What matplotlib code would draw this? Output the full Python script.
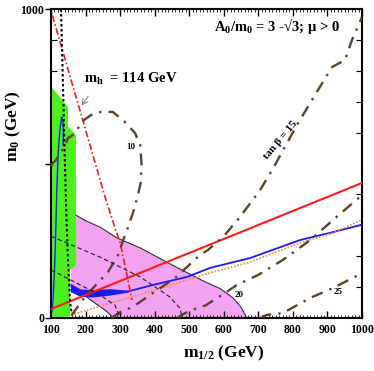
import matplotlib
matplotlib.use("Agg")
import matplotlib.pyplot as plt
import numpy as np
from matplotlib.ticker import MultipleLocator, FixedLocator

plt.rcParams['font.family'] = ['Liberation Serif', 'DejaVu Serif']
plt.rcParams['font.weight'] = 'bold'
plt.rcParams['mathtext.fontset'] = 'custom'
plt.rcParams['mathtext.rm'] = 'Liberation Serif:bold'
plt.rcParams['mathtext.it'] = 'Liberation Serif:bold'
plt.rcParams['mathtext.bf'] = 'Liberation Serif:bold'

# ---------------- data (m_1/2, m_0 in GeV) ----------------
green_x = [100, 149, 149, 172, 172, 155, 155, 100]
green_y = [750, 683, 621, 592, 171, 155, 0, 0]

pink_top_x = [172, 200, 242, 291, 358, 436, 502, 546, 590, 627, 650, 667]
pink_top_y = [333, 315, 294, 259, 227, 180, 142, 117, 95, 65, 35, 0]
pink_low_x = [282, 256, 225, 201, 175, 155]
pink_low_y = [0, 26, 50, 70, 85, 100]

band_x = [156, 185, 220, 270, 323]
band_lo = [85, 70, 68, 74, 84]
band_hi = [112, 94, 92, 95, 90]

blue_x = [323, 395, 494, 560, 676, 820, 916, 1000]
blue_y = [86, 107, 133, 162, 194, 252, 278, 302]
blue_thin_x = [103, 106, 110, 114, 117, 121, 126, 131, 134, 136, 135]
blue_thin_y = [20, 60, 150, 290, 420, 540, 610, 650, 640, 600, 560]

orange_x = [158, 323, 430, 560, 676, 820, 916, 1000]
orange_y = [10, 65, 100, 146, 181, 243, 275, 318]

red_x = [100, 1000]
red_y = [29, 437]

mh_x = [104, 130, 160, 190, 220, 259, 280, 300, 318, 334]
mh_y = [979, 879, 763, 648, 532, 382, 310, 243, 150, 58]

charg_x = [129, 132, 135, 139, 143, 147, 150, 152, 155, 158, 169]
charg_y = [1000, 870, 738, 560, 382, 250, 170, 123, 58, 26, 16]

tb10_x = [100, 106, 114, 129, 141, 149, 172, 187, 216, 245, 279, 314, 343, 358, 362, 360, 352, 340, 325, 310, 294, 265, 230, 198, 164, 155]
tb10_y = [490, 502, 511, 537, 560, 582, 599, 634, 657, 667, 667, 634, 599, 560, 500, 440, 400, 350, 300, 255, 204, 149, 107, 68, 16, 0]
tb15_x = [275, 300, 337, 400, 459, 531, 554, 598, 647, 705, 740, 815, 913, 951, 971, 994, 1000]
tb15_y = [0, 19, 36, 85, 129, 204, 220, 262, 327, 414, 479, 631, 812, 835, 900, 958, 975]
tb20_x = [465, 488, 531, 546, 604, 638, 699, 771, 850, 916, 994, 1000]
tb20_y = [0, 16, 36, 40, 81, 107, 139, 188, 252, 317, 392, 398]
tb25_x = [705, 725, 771, 850, 916, 1000]
tb25_y = [0, 10, 16, 65, 97, 145]

dash1_x = [100, 112, 242, 358, 444, 473, 480]
dash1_y = [265, 259, 197, 133, 68, 32, 0]
dash2_x = [100, 112, 242, 285, 300]
dash2_y = [155, 149, 74, 42, 0]

x_ticks = [100, 200, 300, 400, 500, 600, 700, 800, 900, 1000]
y_ticks = [0, 500, 1000]
y_ticklabels = ['0', '', '1000']

# ---------------- figure ----------------
fig = plt.figure(figsize=(3.74, 3.71), dpi=100)
ax = fig.add_axes([51/374, 53/371, 311/374, 309/371])
ax.set_xlim(100, 1000)
ax.set_ylim(0, 1000)

brown = '#5e4426'
pink = '#f4a2f2'
green = '#4df01c'

# pink region
px = pink_top_x + pink_low_x
py = pink_top_y + pink_low_y
ax.fill(px, py, color=pink, lw=0, zorder=1)
ax.plot(pink_top_x, pink_top_y, color='#333333', lw=0.8, zorder=3)
ax.plot(pink_low_x[:4], pink_low_y[:4], color='#333333', lw=0.8, zorder=3)

# green region
ax.fill(green_x, green_y, color=green, lw=0, zorder=2)

# blue band & lines
ax.fill_between(band_x, band_lo, band_hi, color='#1a1aff', lw=0, zorder=4)
ax.plot(blue_x, blue_y, color='#1a1aff', lw=1.3, zorder=4)
ax.plot(blue_thin_x, blue_thin_y, color='#1a1aff', lw=1.0, zorder=4)
ax.plot(orange_x, orange_y, color='#f08a3c', lw=1.2, ls=(0, (1, 1)), zorder=4)

# red solid
ax.plot(red_x, red_y, color='#ff1a1a', lw=1.5, zorder=5)
# higgs dash-dot
ax.plot(mh_x, mh_y, color='#ff1a1a', lw=1.2, ls=(0, (4, 1.5, 1, 1.5)), zorder=5)
# chargino dotted
ax.plot(charg_x, charg_y, color='black', lw=1.5, ls=(0, (1.2, 1.2)), zorder=5)

# tan beta contours
dd = (0, (5, 3, 1, 3))
for xx, yy in [(tb10_x, tb10_y), (tb15_x, tb15_y), (tb20_x, tb20_y), (tb25_x, tb25_y)]:
    ax.plot(xx, yy, color=brown, lw=1.7, ls=dd, zorder=5)

# thin black dashed lines
ax.plot(dash1_x, dash1_y, color='#222222', lw=0.8, ls=(0, (4, 2.5)), zorder=5)
ax.plot(dash2_x, dash2_y, color='#222222', lw=0.8, ls=(0, (4, 2.5)), zorder=5)

# texts
ax.text(0.727, 0.945, r'A$_0$/m$_0$ = 3 -√3; μ > 0', transform=ax.transAxes,
        ha='center', va='center', fontsize=10.5, fontweight='bold')
ax.text(765, 575, 'tan β = 15', rotation=50, ha='center', va='center',
        fontsize=8, fontweight='bold')
ax.text(330, 553, '10', ha='center', va='center', fontsize=6.5, fontweight='bold')
ax.text(643, 75, '20', ha='center', va='center', fontsize=6.5, fontweight='bold')
ax.text(932, 85, '25', ha='center', va='center', fontsize=6.5, fontweight='bold')
ax.text(195, 775, r'm$_{\rm h}$  = 114 GeV', ha='left', va='center', fontsize=10.5,
        fontweight='bold')
ax.annotate('', xy=(184, 680), xytext=(212, 725),
            arrowprops=dict(arrowstyle='->', color='#777777', lw=0.7))

ax.set_xlabel(r'm$_{1/2}$ (GeV)', fontsize=12.5, fontweight='bold')
ax.set_ylabel(r'm$_0$ (GeV)', fontsize=12.5, fontweight='bold')
ax.xaxis.set_label_coords(0.556, -0.085)
ax.yaxis.set_label_coords(-0.09, 0.62)

ax.set_xticks(x_ticks)
ax.set_xticklabels([str(v) for v in x_ticks])
ax.xaxis.set_minor_locator(MultipleLocator(10))
ax.set_yticks(y_ticks)
ax.set_yticklabels(y_ticklabels)
ax.yaxis.set_minor_locator(MultipleLocator(100))

ax.tick_params(axis='x', which='major', direction='in', length=5, width=1, top=True,
               labelsize=8.5, pad=4)
ax.tick_params(axis='x', which='minor', direction='in', length=2.5, width=0.6, top=True)
ax.tick_params(axis='y', which='major', direction='out', length=4, width=1,
               labelsize=8.5, pad=1)
ax.tick_params(axis='y', which='minor', direction='in', length=4, width=0.8, right=True)
for lab in ax.get_xticklabels() + ax.get_yticklabels():
    lab.set_fontweight('bold')
for s in ax.spines.values():
    s.set_linewidth(1.5)

fig.savefig('out.png', dpi=100)
